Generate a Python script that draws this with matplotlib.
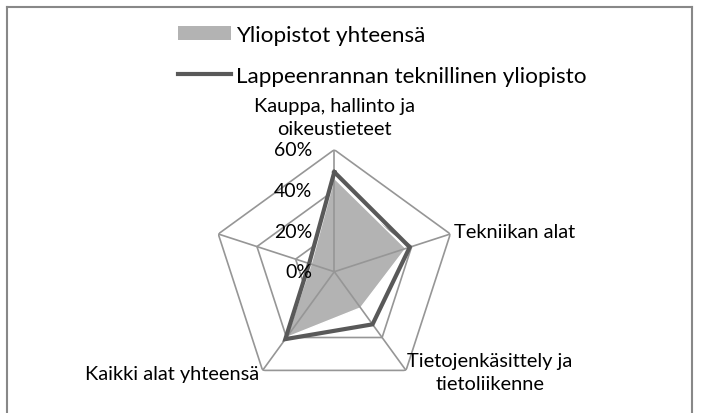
import numpy as np
import matplotlib
matplotlib.use("Agg")
import matplotlib.pyplot as plt
from matplotlib.lines import Line2D
from matplotlib.patches import Patch
import matplotlib.transforms as mtransforms

plt.rcParams['font.family'] = ['Lato', 'DejaVu Sans']

# ---- data ----
categories = ["Kauppa, hallinto ja\noikeustieteet", "Tekniikan alat",
              "Tietojenkäsittely ja\ntietoliikenne", "Kaikki alat yhteensä", ""]
series_names = ["Yliopistot yhteensä", "Lappeenrannan teknillinen yliopisto"]
yliopistot = [0.46, 0.37, 0.22, 0.40, 0.12]
lut = [0.49, 0.39, 0.32, 0.41, 0.13]
ticks = [0.0, 0.2, 0.4, 0.6]
tick_labels = ["0%", "20%", "40%", "60%"]

W, H = 704, 414
FS_TICK = 14
FS_CAT = 14.4
FS_LEG = 16.2
grid_c = "#969696"
fill_c = "#B3B3B3"
line_c = "#595959"

fig = plt.figure(figsize=(W / 100, H / 100), dpi=100)
fig.patch.set_facecolor("white")

def fx(px):
    return px / W

def fy(py):
    return 1 - py / H

cx, cy, R = 334.3, 272.7, 122
ax = fig.add_axes([fx(cx - R), fy(cy + R), 2 * R / W, 2 * R / H], projection="polar")
ax.set_theta_offset(np.pi / 2)
ax.set_theta_direction(-1)
ax.set_ylim(0, 0.6)
ax.grid(False)
ax.spines["polar"].set_visible(False)
ax.set_xticks([])
ax.set_yticks([])
ax.patch.set_alpha(0)

n = len(categories)
angles = np.linspace(0, 2 * np.pi, n, endpoint=False)
ang_c = np.concatenate([angles, angles[:1]])

# rings (below fill)
for t in ticks[1:]:
    ax.plot(ang_c, [t] * (n + 1), color=grid_c, lw=1.2, zorder=1, solid_joinstyle="miter")

# filled series
vals1 = np.concatenate([yliopistot, yliopistot[:1]])
ax.fill(ang_c, vals1, facecolor=fill_c, edgecolor="white", lw=1.0, zorder=2)

# spokes (above fill)
for a in angles:
    ax.plot([a, a], [0, ticks[-1]], color=grid_c, lw=1.2, zorder=3)

# line series
vals2 = np.concatenate([lut, lut[:1]])
ax.plot(ang_c, vals2, color=line_c, lw=3.0, zorder=4, solid_joinstyle="miter")

# radial tick labels
off = mtransforms.offset_copy(ax.transData, fig=fig, x=-22, y=0, units="dots")
for t, lab in zip(ticks, tick_labels):
    ax.text(0, t, lab, transform=off, ha="right", va="center", fontsize=FS_TICK,
            color="black", zorder=6, clip_on=False)

# category labels
fig.text(fx(334), fy(118), categories[0], ha="center", va="center", fontsize=FS_CAT,
         multialignment="center", linespacing=1.37)
fig.text(fx(454), fy(233), categories[1], ha="left", va="center", fontsize=FS_CAT)
fig.text(fx(490), fy(373), categories[2], ha="center", va="center", fontsize=FS_CAT,
         multialignment="center", linespacing=1.37)
fig.text(fx(259), fy(375), categories[3], ha="right", va="center", fontsize=FS_CAT)

# legend
handles = [Patch(facecolor=fill_c, edgecolor="none"),
           Line2D([0], [0], color=line_c, lw=3.0)]
leg = fig.legend(handles, series_names, loc="upper left",
                 bbox_to_anchor=(fx(178), fy(26)), frameon=False, fontsize=FS_LEG,
                 handlelength=2.35, handleheight=0.6, handletextpad=0.22,
                 labelspacing=0.92, borderpad=0, borderaxespad=0)

# chart border
bc = "#888888"
fig.add_artist(Line2D([fx(6.5), fx(6.5)], [0, fy(7.5)], color=bc, lw=1.5))
fig.add_artist(Line2D([fx(6.5), fx(691.5)], [fy(7.5), fy(7.5)], color=bc, lw=1.5))
fig.add_artist(Line2D([fx(691.5), fx(691.5)], [fy(7.5), 0], color=bc, lw=1.5))

fig.savefig("out.png", dpi=100, facecolor="white")
